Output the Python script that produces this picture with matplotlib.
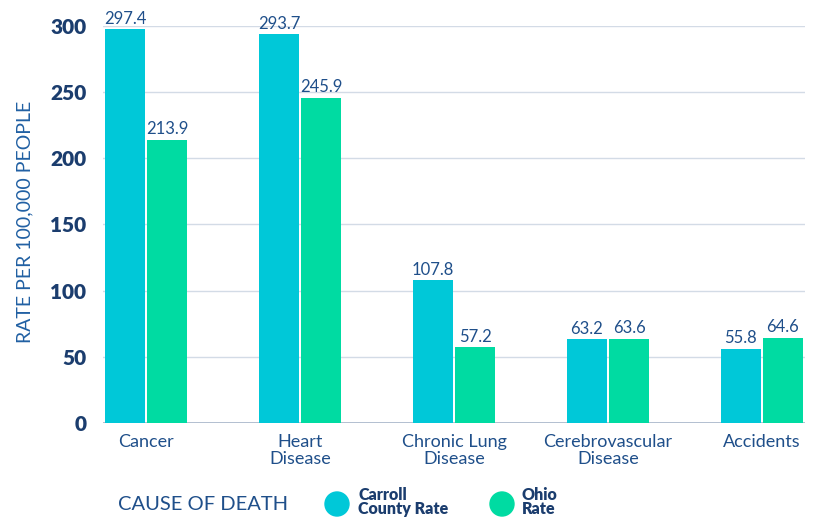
import numpy as np
import matplotlib.pyplot as plt
from matplotlib.patches import Ellipse

plt.rcParams['font.family'] = ['Lato', 'DejaVu Sans']

# --- Data ---
causes = ['Cancer', 'Heart\nDisease', 'Chronic Lung\nDisease', 'Cerebrovascular\nDisease', 'Accidents']
carroll = [297.4, 293.7, 107.8, 63.2, 55.8]
ohio = [213.9, 245.9, 57.2, 63.6, 64.6]
yticks = [0, 50, 100, 150, 200, 250, 300]

c_carroll = '#00C8D8'
c_ohio = '#00DBA2'
navy = '#1B3D6E'
blue_txt = '#1F4F8A'

fig = plt.figure(figsize=(8.13, 5.19), dpi=100)
ax = fig.add_axes([103/813, 96/519, (805-103)/813, (423-26)/519])

x = np.arange(len(causes))
w = 0.26
off = 0.137
b1 = ax.bar(x - off, carroll, w, color=c_carroll, zorder=3)
b2 = ax.bar(x + off, ohio, w, color=c_ohio, zorder=3)
for bars in (b1, b2):
    ax.bar_label(bars, fmt='%.1f', padding=2, color=blue_txt, fontsize=12)

ax.set_xlim(-0.28, 4.28)
ax.set_ylim(0, 300)
ax.set_yticks(yticks)
ax.set_yticklabels([str(t) for t in yticks], fontweight='heavy', color=navy, fontsize=15)
ax.set_xticks(x)
ax.set_xticklabels(causes, color=blue_txt, fontsize=13, linespacing=1.1)
ax.tick_params(axis='both', length=0)
ax.tick_params(axis='y', pad=12)
ax.tick_params(axis='x', pad=8)
ax.grid(axis='y', color='#D3DBE6', linewidth=1, zorder=0)
ax.axhline(0, color='#A7B5C9', linewidth=1.2, zorder=2)
for s in ax.spines.values():
    s.set_visible(False)

fig.text(25/813, 1 - 222/519, 'RATE PER 100,000 PEOPLE', rotation=90, ha='center', va='center',
         color='#2160A3', fontsize=14)

# --- Legend at the bottom ---
fig.text(118/813, 1 - 504/519, 'CAUSE OF DEATH', ha='left', va='center',
         color=blue_txt, fontsize=14.5)
for cx, col, lab, lx in [(337, c_carroll, 'Carroll\nCounty Rate', 358), (502, c_ohio, 'Ohio\nRate', 522)]:
    fig.add_artist(Ellipse((cx/813, 1 - 504/519), 24/813, 24/519, color=col,
                           transform=fig.transFigure))
    fig.text(lx/813, 1 - 502/519, lab, ha='left', va='center', color=navy,
             fontsize=11.5, fontweight='heavy', linespacing=0.9)

fig.savefig('out.png', dpi=100)
